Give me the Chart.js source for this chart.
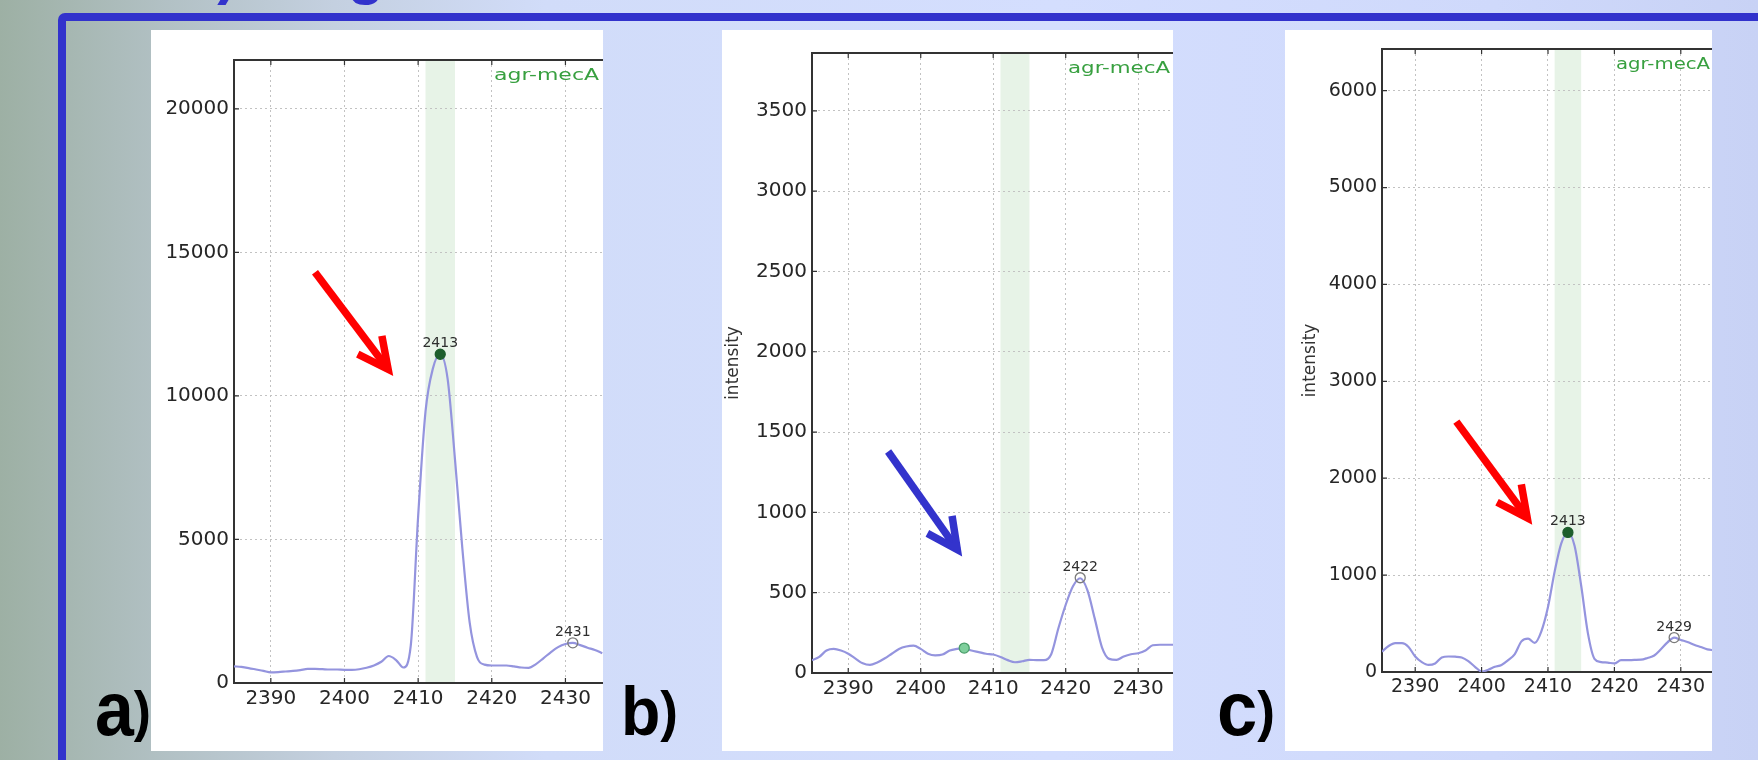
<!DOCTYPE html>
<html>
<head>
<meta charset="utf-8">
<script src="https://cdn.jsdelivr.net/npm/chart.js@4.4.1/dist/chart.umd.min.js"></script>
<style>
  html, body { margin: 0; padding: 0; }
  body {
    width: 1758px; height: 760px; overflow: hidden; position: relative;
    background: linear-gradient(to right, #9db0a4 0%, #b1c0c3 9%, #c4d0e0 19%, #d1dcf9 31%, #d4defe 60%, #cfd9fb 85%, #c8d2f5 100%);
    font-family: 'DejaVu Sans', sans-serif;
  }
  .frame {
    position: absolute; left: 58px; top: 13px; width: 1800px; height: 900px;
    border: 8px solid #3232cc; border-radius: 7px; box-sizing: border-box;
  }
  .panel { position: absolute; top: 30px; height: 721px; background: #fff; }
  #pa { left: 151px; width: 452px; }
  #pb { left: 722px; width: 451px; }
  #pc { left: 1285px; width: 427px; }
  svg.slide { position: absolute; left: 0; top: 0; }
</style>
</head>
<body>
<div class="frame"></div>
<div class="panel" id="pa"><canvas id="chartA"></canvas></div>
<div class="panel" id="pb"><canvas id="chartB"></canvas></div>
<div class="panel" id="pc"><canvas id="chartC"></canvas></div>
<svg class="slide" width="1758" height="760">
  <text x="184" y="-7" font-family="Liberation Sans" font-weight="bold" font-size="60" fill="#3232cc">3) Diagnosis</text>
  <text x="95" y="735" font-family="Liberation Sans" font-weight="bold" fill="#000" textLength="56" lengthAdjust="spacingAndGlyphs"><tspan font-size="76">a</tspan><tspan font-size="56" dy="-5">)</tspan></text>
  <text x="621" y="735" font-family="Liberation Sans" font-weight="bold" fill="#000" textLength="57" lengthAdjust="spacingAndGlyphs"><tspan font-size="68">b</tspan><tspan font-size="56" dy="-5">)</tspan></text>
  <text x="1217" y="735" font-family="Liberation Sans" font-weight="bold" fill="#000" textLength="58" lengthAdjust="spacingAndGlyphs"><tspan font-size="76">c</tspan><tspan font-size="56" dy="-5">)</tspan></text>
</svg>
<script>
// m/z values shared by the three spectra
const mass = [2385, 2386, 2387, 2388, 2389, 2390, 2391, 2392, 2393, 2394,
  2395, 2396, 2397, 2398, 2399, 2400, 2401, 2402, 2403, 2404,
  2405, 2406, 2407, 2408, 2409, 2410, 2411, 2412, 2413, 2414,
  2415, 2416, 2417, 2418, 2419, 2420, 2421, 2422, 2423, 2424,
  2425, 2426, 2427, 2428, 2429, 2430, 2431, 2432, 2433, 2434, 2435];

const intensityA = [580, 560, 520, 470, 420, 370, 380, 400, 420, 450,
  490, 490, 480, 470, 470, 460, 460, 480, 530, 610,
  740, 940, 800, 540, 1300, 5800, 9450, 10950, 11450, 10600,
  7800, 4700, 2100, 900, 640, 610, 610, 610, 580, 540,
  530, 660, 860, 1070, 1250, 1360, 1400, 1320, 1230, 1150, 1040];

const intensityB = [80, 100, 140, 150, 140, 120, 90, 60, 50, 65,
  90, 120, 150, 165, 170, 150, 120, 110, 115, 140,
  150, 155, 140, 130, 120, 115, 100, 80, 67, 73,
  82, 80, 80, 117, 280, 425, 540, 590, 515, 340,
  160, 88, 82, 103, 117, 123, 140, 173, 176, 176, 176];

const intensityC = [210, 268, 297, 297, 258, 160, 102, 73, 88, 150,
  160, 158, 150, 112, 54, 5, 24, 54, 73, 122,
  185, 316, 345, 300, 420, 671, 1036, 1328, 1440, 1304,
  890, 404, 136, 102, 97, 88, 122, 122, 125, 127,
  145, 170, 234, 306, 355, 331, 310, 282, 258, 234, 224];

const massTicks = [2390, 2400, 2410, 2420, 2430];
const ticksA = [0, 5000, 10000, 15000, 20000];
const ticksB = [0, 500, 1000, 1500, 2000, 2500, 3000, 3500];
const ticksC = [0, 1000, 2000, 3000, 4000, 5000, 6000];

const peakMassA = [2413, 2431];
const peakIntA = [11450, 1400];
const peakTextA = ['2413', '2431'];
const peakMassB = [2406, 2422];
const peakIntB = [155, 593];
const peakTextB = ['', '2422'];
const peakMassC = [2413, 2429];
const peakIntC = [1441, 355];
const peakTextC = ['2413', '2429'];

const bandRange = [2411, 2415];
const bandLabel = 'agr-mecA';

function drawArrow(ctx, x1, y1, x2, y2, color) {
  const ang = Math.atan2(y2 - y1, x2 - x1);
  const tx = x2 - 7 * Math.cos(ang), ty = y2 - 7 * Math.sin(ang);
  ctx.save();
  ctx.strokeStyle = color;
  ctx.lineWidth = 7.5;
  ctx.lineJoin = 'miter';
  ctx.beginPath();
  ctx.moveTo(x1, y1);
  ctx.lineTo(tx, ty);
  ctx.stroke();
  const len = 34, spread = 0.46;
  ctx.beginPath();
  ctx.moveTo(tx - len * Math.cos(ang - spread), ty - len * Math.sin(ang - spread));
  ctx.lineTo(tx, ty);
  ctx.lineTo(tx - len * Math.cos(ang + spread), ty - len * Math.sin(ang + spread));
  ctx.stroke();
  ctx.restore();
}

function makePanel(id, cfg) {
  const deco = {
    id: 'deco',
    beforeDraw(chart) {
      const { ctx, chartArea: a, scales: { x } } = chart;
      const x0 = x.getPixelForValue(bandRange[0]);
      const x1 = x.getPixelForValue(bandRange[1]);
      ctx.save();
      ctx.fillStyle = '#e7f3e7';
      ctx.fillRect(x0, a.top, x1 - x0, a.bottom - a.top);
      ctx.restore();
    },
    afterDatasetsDraw(chart) {
      const { ctx } = chart;
      const meta = chart.getDatasetMeta(1);
      ctx.save();
      ctx.font = '14px "DejaVu Sans"';
      ctx.fillStyle = '#2e2e2e';
      ctx.textAlign = 'center';
      ctx.textBaseline = 'alphabetic';
      meta.data.forEach((pt, i) => {
        if (cfg.peakText[i]) ctx.fillText(cfg.peakText[i], pt.x, pt.y - 7);
      });
      ctx.restore();
    },
    afterDraw(chart) {
      const { ctx, chartArea: a, scales: { x, y } } = chart;
      ctx.save();
      // top spine
      ctx.strokeStyle = '#333';
      ctx.lineWidth = 2;
      ctx.beginPath();
      ctx.moveTo(a.left - 1, a.top);
      ctx.lineTo(a.right, a.top);
      ctx.stroke();
      // inward tick marks
      ctx.lineWidth = 1.2;
      ctx.beginPath();
      massTicks.forEach(v => {
        const px = x.getPixelForValue(v);
        ctx.moveTo(px, a.bottom); ctx.lineTo(px, a.bottom - 5);
        ctx.moveTo(px, a.top); ctx.lineTo(px, a.top + 5);
      });
      cfg.yTicks.forEach(v => {
        const py = y.getPixelForValue(v);
        ctx.moveTo(a.left, py); ctx.lineTo(a.left + 5, py);
      });
      ctx.stroke();
      // band label
      ctx.font = '16px "DejaVu Sans"';
      const w = ctx.measureText(bandLabel).width;
      ctx.translate(a.right - cfg.labelGap, a.top + cfg.labelDy);
      ctx.scale(cfg.labelW / w, 1);
      ctx.fillStyle = '#38a040';
      ctx.textAlign = 'right';
      ctx.fillText(bandLabel, 0, 0);
      ctx.restore();
      // slide arrow
      const ar = cfg.arrow;
      drawArrow(ctx,
        x.getPixelForValue(ar.from[0]), y.getPixelForValue(ar.from[1]),
        x.getPixelForValue(ar.to[0]), y.getPixelForValue(ar.to[1]), ar.color);
    }
  };

  const tickFont = { family: 'DejaVu Sans', size: cfg.tickSize };
  return new Chart(document.getElementById(id), {
    type: 'line',
    data: {
      datasets: [
        {
          data: mass.map((m, i) => ({ x: m, y: cfg.values[i] })),
          borderColor: '#9494de',
          borderWidth: 2.2,
          pointRadius: 0,
          cubicInterpolationMode: 'monotone',
          fill: false,
          order: 2
        },
        {
          type: 'scatter',
          data: cfg.peakMass.map((m, i) => ({ x: m, y: cfg.peakInt[i] })),
          pointRadius: 5,
          pointBackgroundColor: cfg.peakFill,
          pointBorderColor: cfg.peakEdge,
          pointBorderWidth: 1.3,
          order: 1
        }
      ]
    },
    options: {
      responsive: true,
      maintainAspectRatio: false,
      animation: false,
      devicePixelRatio: 1,
      layout: { autoPadding: false, padding: { top: cfg.padTop, left: 0, right: 0, bottom: 0 } },
      plugins: { legend: { display: false }, tooltip: { enabled: false } },
      scales: {
        x: {
          type: 'linear',
          min: 2385,
          max: cfg.xMax,
          afterBuildTicks: s => { s.ticks = massTicks.map(v => ({ value: v })); },
          afterFit: s => { s.height = cfg.xAxisH; s.paddingLeft = 0; s.paddingRight = 0; },
          grid: { color: '#c2c2c2', lineWidth: 1, drawTicks: false },
          border: { display: true, color: '#333', width: 2, dash: [2, 3] },
          ticks: { color: '#262626', font: tickFont, padding: 4, maxRotation: 0, callback: v => String(v) }
        },
        y: {
          min: 0,
          max: cfg.yMax,
          afterBuildTicks: s => { s.ticks = cfg.yTicks.map(v => ({ value: v })); },
          afterFit: s => { s.width = cfg.yAxisW; },
          grid: { color: '#c2c2c2', lineWidth: 1, drawTicks: false },
          border: { display: true, color: '#333', width: 2, dash: [2, 3] },
          ticks: { color: '#262626', font: tickFont, padding: 5, callback: v => String(v) },
          title: {
            display: cfg.yTitle,
            text: 'intensity',
            color: '#333',
            font: { family: 'DejaVu Sans', size: 17 },
            padding: { top: cfg.titlePad, bottom: 0 }
          }
        }
      }
    },
    plugins: [deco]
  });
}

makePanel('chartA', {
  values: intensityA, yTicks: ticksA, yMax: 21700, xMax: 2435.1,
  peakMass: peakMassA, peakInt: peakIntA, peakText: peakTextA,
  peakFill: ['#1d5e2c', 'rgba(255,255,255,0)'], peakEdge: ['#1d5e2c', '#7a7a7a'],
  padTop: 30, yAxisW: 83, xAxisH: 68, tickSize: 20, yTitle: false, titlePad: 0,
  labelW: 105, labelGap: 4, labelDy: 20,
  arrow: { from: [2396.0, 14310], to: [2406.5, 10730], color: '#ff0000' }
});

makePanel('chartB', {
  values: intensityB, yTicks: ticksB, yMax: 3860, xMax: 2434.8,
  peakMass: peakMassB, peakInt: peakIntB, peakText: peakTextB,
  peakFill: ['#7fcf9c', 'rgba(255,255,255,0)'], peakEdge: ['#4a9e6a', '#7a7a7a'],
  padTop: 23, yAxisW: 90, xAxisH: 78, tickSize: 20, yTitle: true, titlePad: 1,
  labelW: 102, labelGap: 3, labelDy: 20,
  arrow: { from: [2395.5, 1379], to: [2405.6, 733], color: '#3333cc' }
});

makePanel('chartC', {
  values: intensityC, yTicks: ticksC, yMax: 6430, xMax: 2434.7,
  peakMass: peakMassC, peakInt: peakIntC, peakText: peakTextC,
  peakFill: ['#1d5e2c', 'rgba(255,255,255,0)'], peakEdge: ['#1d5e2c', '#7a7a7a'],
  padTop: 19, yAxisW: 97, xAxisH: 79, tickSize: 19, yTitle: true, titlePad: 15,
  labelW: 94, labelGap: 2, labelDy: 20,
  arrow: { from: [2396.2, 2584], to: [2407.5, 1533], color: '#ff0000' }
});
</script>
</body>
</html>
